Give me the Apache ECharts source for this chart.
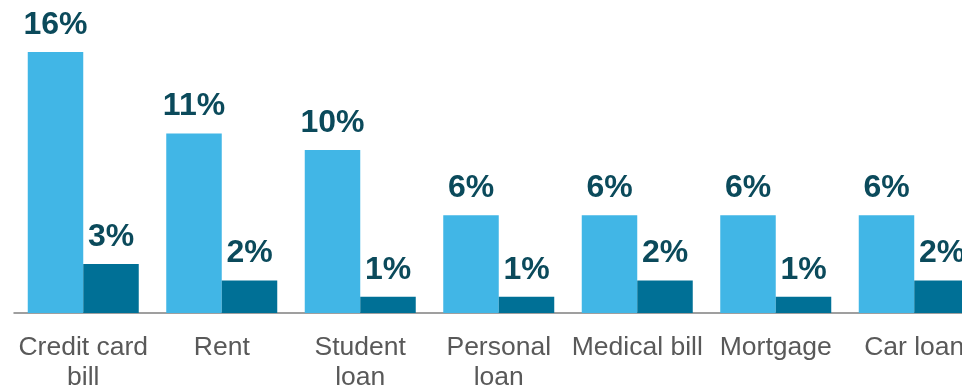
<!DOCTYPE html>
<html>
<head>
<meta charset="utf-8">
<script src="https://cdn.jsdelivr.net/npm/echarts@6/dist/echarts.min.js"></script>
<style>html,body{margin:0;padding:0;background:#fff;overflow:hidden}#c{width:962px;height:387px}</style>
</head>
<body>
<div id="c"></div>
<script>
const categories = ['Credit card\nbill', 'Rent', 'Student\nloan', 'Personal\nloan', 'Medical bill', 'Mortgage', 'Car loan'];
const seriesA = [16, 11, 10, 6, 6, 6, 6];
const seriesB = [3, 2, 1, 1, 2, 1, 2];

const chart = echarts.init(document.getElementById('c'), null, {renderer: 'canvas'});
const labelCfg = {
  show: true, position: 'top', distance: 11,
  formatter: p => p.value + '%',
  color: '#0b4a5b', fontFamily: 'Liberation Sans, Arial, sans-serif',
  fontWeight: 'bold', fontSize: 32
};
chart.setOption({
  animation: false,
  grid: {left: 14, top: 52, width: 969.5, height: 261, containLabel: false, outerBoundsMode: 'none'},
  xAxis: {
    type: 'category', data: categories,
    axisLine: {lineStyle: {color: '#808080', width: 1.5}},
    axisTick: {show: false},
    axisLabel: {color: '#595959', fontSize: 26.5, lineHeight: 30, margin: 20, interval: 0,
      fontFamily: 'Liberation Sans, Arial, sans-serif'}
  },
  yAxis: {type: 'value', min: 0, max: 16, show: false, splitLine: {show: false}},
  series: [
    {type: 'bar', data: seriesA, barWidth: 55.5, barGap: '0%', itemStyle: {color: '#41b6e6'}, label: labelCfg},
    {type: 'bar', data: seriesB, barWidth: 55.5, barGap: '0%', itemStyle: {color: '#007096'}, label: labelCfg}
  ]
});
</script>
</body>
</html>
